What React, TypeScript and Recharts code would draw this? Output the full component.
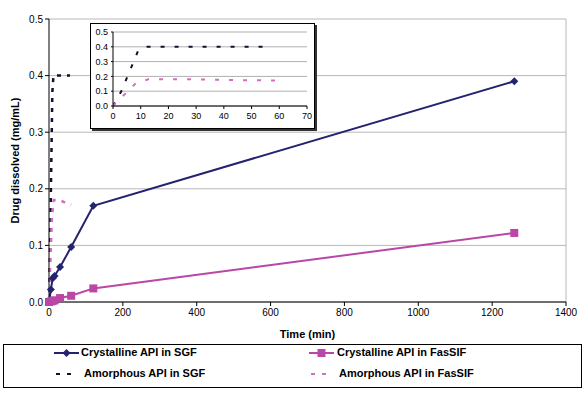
import React from 'react';
import { LineChart, Line, XAxis, YAxis, CartesianGrid, ReferenceLine } from 'recharts';

// sampling times (min) for the crystalline runs
const crystTimes = [0, 5, 10, 15, 30, 60, 120, 1260];
const crystSgf = [0, 0.022, 0.042, 0.046, 0.062, 0.097, 0.17, 0.39];
const crystFassif = [0, 0.001, 0.002, 0.003, 0.007, 0.011, 0.024, 0.122];

// amorphous runs (short time scale)
const amorSgfTimes = [0, 3, 5, 7, 9, 12, 57];
const amorSgf = [0, 0.1, 0.19, 0.28, 0.37, 0.4, 0.4];
const amorFassifTimes = [0, 1, 4.5, 8, 12.7, 30, 45, 60];
const amorFassif = [0, 0.02, 0.085, 0.15, 0.18, 0.18, 0.175, 0.172];

const mainTicksX = [0, 200, 400, 600, 800, 1000, 1200, 1400];
const mainTicksY = [0, 0.1, 0.2, 0.3, 0.4, 0.5];
const insetTicksX = [0, 10, 20, 30, 40, 50, 60, 70];

const NAVY = '#23236f';
const DARK = '#101030';
const MAGENTA = '#bb46a6';
const PINK = '#d46cc4';
const FONT = "'Liberation Sans', Arial, sans-serif";

const zip = (ts: number[], vs: number[]) => ts.map((t, i) => ({ t, v: vs[i] }));

const sgfData = zip(crystTimes, crystSgf);
const fassifData = zip(crystTimes, crystFassif);
const amorSgfData = zip(amorSgfTimes, amorSgf);
const amorFassifData = zip(amorFassifTimes, amorFassif);

const Diamond = (props: any) => {
  const { cx, cy } = props;
  if (cx == null || cy == null) return null;
  const r = 4;
  return <path d={`M${cx},${cy - r}L${cx + r},${cy}L${cx},${cy + r}L${cx - r},${cy}Z`} fill={NAVY} />;
};

const Square = (props: any) => {
  const { cx, cy } = props;
  if (cx == null || cy == null) return null;
  return <rect x={cx - 4} y={cy - 4} width={8} height={8} fill={MAGENTA} />;
};

const fmt = (v: number) => v.toFixed(1);
const tickStyle = { fontSize: 10, fill: '#000', fontFamily: FONT };

const Inset = () => (
  <div
    style={{
      position: 'absolute',
      left: 90,
      top: 23,
      width: 223,
      height: 104,
      border: '1px solid #000',
      background: '#fff',
      boxShadow: '2px 2px 0 #333',
    }}
  >
    <LineChart width={223} height={104} margin={{ top: 8, right: 7, left: 2, bottom: 2 }}>
      <CartesianGrid vertical={false} stroke="#b0b0b0" />
      <XAxis
        type="number"
        dataKey="t"
        domain={[0, 70]}
        ticks={insetTicksX}
        interval={0}
        allowDataOverflow
        stroke="#000"
        tickSize={3}
        tickMargin={4}
        height={20}
        tick={{ ...tickStyle, fontSize: 9 }}
      />
      <YAxis
        type="number"
        domain={[0, 0.5]}
        ticks={mainTicksY}
        interval={0}
        tickFormatter={fmt}
        stroke="#000"
        tickSize={2}
        tickMargin={3}
        width={20}
        tick={{ ...tickStyle, fontSize: 9 }}
      />
      <Line
        data={amorSgfData}
        dataKey="v"
        stroke={DARK}
        strokeWidth={2}
        strokeDasharray="4 10"
        dot={false}
        isAnimationActive={false}
      />
      <Line
        data={amorFassifData}
        dataKey="v"
        stroke={PINK}
        strokeWidth={2}
        strokeDasharray="4 10"
        dot={false}
        isAnimationActive={false}
      />
    </LineChart>
  </div>
);

const legendText = { fontFamily: FONT, fontSize: 11, fontWeight: 700, color: '#000' } as const;

const Legend = () => (
  <div
    style={{
      position: 'absolute',
      left: 3,
      top: 344,
      width: 577,
      height: 42,
      border: '1px solid #000',
      background: '#fff',
    }}
  >
    <svg width={577} height={42} style={{ position: 'absolute', left: 0, top: 0 }}>
      <line x1={50} y1={8} x2={75} y2={8} stroke={NAVY} strokeWidth={2} />
      <path d="M62.5,4L66.5,8L62.5,12L58.5,8Z" fill={NAVY} />
      <line x1={52} y1={29} x2={74} y2={29} stroke={DARK} strokeWidth={2} strokeDasharray="4 7" />
      <line x1={305} y1={8} x2={330} y2={8} stroke={MAGENTA} strokeWidth={2} />
      <rect x={313.5} y={4} width={8} height={8} fill={MAGENTA} />
      <line x1={307} y1={29} x2={329} y2={29} stroke={PINK} strokeWidth={2} strokeDasharray="4 7" />
    </svg>
    <div style={{ ...legendText, position: 'absolute', left: 77, top: 1 }}>Crystalline API in SGF</div>
    <div style={{ ...legendText, position: 'absolute', left: 80, top: 22 }}>Amorphous API in SGF</div>
    <div style={{ ...legendText, position: 'absolute', left: 333, top: 1 }}>Crystalline API in FasSIF</div>
    <div style={{ ...legendText, position: 'absolute', left: 335, top: 22 }}>Amorphous API in FasSIF</div>
  </div>
);

export default function App() {
  return (
    <div style={{ position: 'absolute', left: 0, top: 0, width: 586, height: 398, background: '#fff' }}>
      <LineChart width={586} height={342} margin={{ top: 19, right: 20, left: 9, bottom: 2 }}>
        <CartesianGrid vertical={false} stroke="#b8b8b8" />
        <ReferenceLine x={1400} stroke="#b8b8b8" />
        <XAxis
          type="number"
          dataKey="t"
          domain={[0, 1400]}
          ticks={mainTicksX}
          interval={0}
          stroke="#000"
          tickSize={4}
          tickMargin={3}
          height={38}
          tick={tickStyle}
          label={{
            value: 'Time (min)',
            position: 'insideBottom',
            offset: 2,
            style: { fontFamily: FONT, fontSize: 11, fontWeight: 700, fill: '#000' },
          }}
        />
        <YAxis
          type="number"
          domain={[0, 0.5]}
          ticks={mainTicksY}
          interval={0}
          tickFormatter={fmt}
          stroke="#000"
          tickSize={4}
          tickMargin={2}
          width={40}
          tick={tickStyle}
          label={{
            value: 'Drug dissolved (mg/mL)',
            angle: -90,
            position: 'insideLeft',
            offset: 6,
            style: { textAnchor: 'middle', fontFamily: FONT, fontSize: 11, fontWeight: 700, fill: '#000' },
          }}
        />
        <Line
          data={amorSgfData}
          dataKey="v"
          stroke={DARK}
          strokeWidth={2.5}
          strokeDasharray="4 6"
          dot={false}
          isAnimationActive={false}
        />
        <Line
          data={amorFassifData}
          dataKey="v"
          stroke={PINK}
          strokeWidth={2.5}
          strokeDasharray="4 6"
          dot={false}
          isAnimationActive={false}
        />
        <Line
          data={sgfData}
          dataKey="v"
          stroke={NAVY}
          strokeWidth={2}
          dot={<Diamond />}
          isAnimationActive={false}
        />
        <Line
          data={fassifData}
          dataKey="v"
          stroke={MAGENTA}
          strokeWidth={2}
          dot={<Square />}
          isAnimationActive={false}
        />
      </LineChart>
      <Inset />
      <Legend />
    </div>
  );
}
